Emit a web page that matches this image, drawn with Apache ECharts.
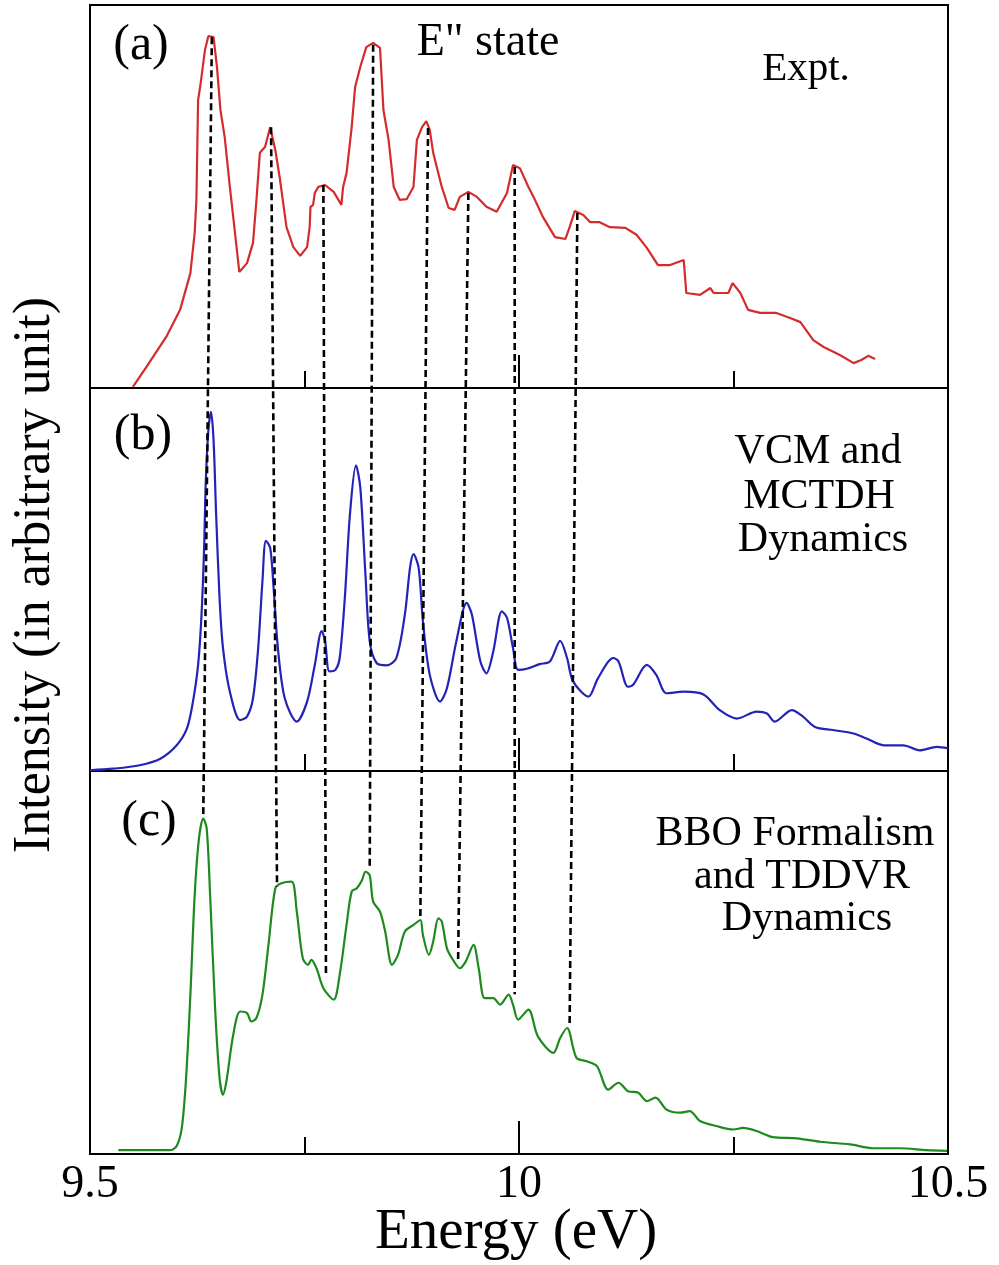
<!DOCTYPE html>
<html>
<head>
<meta charset="utf-8">
<script src="https://cdn.jsdelivr.net/npm/echarts@6/dist/echarts.min.js"></script>
<style>
html,body{margin:0;padding:0;background:#fff;}
#chart{width:999px;height:1265px;}
</style>
</head>
<body>
<div id="chart"></div>
<script>
// ---- Data (energies in eV, intensities in arbitrary units 0-100 per panel) ----
const energyA = [9.550,9.566,9.589,9.605,9.617,9.622,9.624,9.625,9.626,9.629,9.634,9.638,9.644,9.648,9.652,9.657,9.663,9.669,9.674,9.683,9.690,9.694,9.698,9.704,9.710,9.716,9.721,9.729,9.737,9.745,9.753,9.756,9.757,9.760,9.762,9.766,9.774,9.784,9.793,9.795,9.799,9.805,9.809,9.815,9.822,9.830,9.838,9.842,9.848,9.854,9.861,9.869,9.877,9.881,9.887,9.892,9.896,9.900,9.910,9.918,9.925,9.931,9.941,9.951,9.962,9.974,9.986,9.993,10.001,10.011,10.017,10.028,10.042,10.054,10.059,10.065,10.075,10.083,10.094,10.106,10.124,10.137,10.149,10.162,10.176,10.192,10.195,10.211,10.223,10.227,10.244,10.249,10.258,10.267,10.281,10.300,10.316,10.328,10.343,10.355,10.374,10.390,10.399,10.407,10.415];
const intensityA = [0.3,5.6,13.4,20.4,30.0,40.5,49.1,62.1,75.2,79.6,88.3,91.9,91.6,83.8,72.6,65.5,52.5,40.5,30.3,32.6,37.9,49.1,61.4,62.9,68.1,62.1,55.1,42.0,36.8,34.5,36.8,42.0,47.3,47.8,50.9,52.5,53.0,51.2,47.8,52.5,56.1,68.1,78.6,83.8,89.0,90.1,88.8,72.6,64.8,52.5,49.1,49.3,52.5,64.8,68.1,69.7,67.4,61.4,52.5,47.0,46.5,49.9,51.2,49.9,47.3,46.0,50.9,58.2,57.4,52.5,49.9,44.6,39.4,38.9,42.0,46.2,45.2,43.3,43.3,42.0,41.8,40.0,36.6,32.1,32.1,33.4,24.8,24.3,26.1,24.8,24.8,27.4,24.8,20.4,19.6,19.6,18.3,17.2,12.5,10.7,8.6,6.5,7.3,8.4,7.6];

const energyB = [9.500,9.527,9.558,9.582,9.601,9.613,9.620,9.626,9.630,9.633,9.635,9.638,9.641,9.644,9.647,9.651,9.655,9.663,9.675,9.683,9.690,9.696,9.701,9.705,9.710,9.714,9.719,9.727,9.741,9.753,9.762,9.770,9.774,9.779,9.786,9.791,9.797,9.803,9.810,9.815,9.821,9.826,9.834,9.846,9.857,9.867,9.873,9.877,9.883,9.888,9.896,9.908,9.916,9.927,9.939,9.945,9.955,9.962,9.970,9.980,9.986,9.993,9.999,10.009,10.024,10.036,10.048,10.056,10.063,10.081,10.092,10.110,10.116,10.127,10.133,10.149,10.160,10.172,10.192,10.215,10.234,10.254,10.277,10.289,10.298,10.318,10.331,10.345,10.366,10.390,10.405,10.425,10.448,10.467,10.487,10.500];
const intensityB = [0.2,0.6,1.5,3.2,6.7,11.1,18.1,27.7,40.9,58.3,75.9,89.0,93.8,86.4,67.1,45.2,32.1,20.7,13.3,14.2,19.0,32.1,49.6,60.1,58.3,47.8,32.1,19.0,12.9,18.1,27.7,36.5,33.9,26.0,26.4,29.5,45.2,67.1,79.8,74.1,51.4,33.9,28.2,27.6,29.5,40.9,53.1,56.6,53.1,39.1,25.1,18.1,21.6,33.9,43.9,40.9,28.6,25.5,31.2,41.7,40.0,32.1,26.4,26.7,27.9,28.6,34.0,29.5,23.4,19.4,24.2,29.5,28.6,22.0,22.5,27.7,25.1,20.3,20.7,20.0,15.9,13.7,15.5,15.0,12.9,15.9,14.2,11.5,10.7,9.8,8.5,6.7,6.7,5.4,6.3,5.9];

const energyC = [9.533,9.593,9.601,9.607,9.612,9.617,9.622,9.627,9.632,9.636,9.640,9.646,9.651,9.655,9.659,9.667,9.675,9.683,9.688,9.694,9.701,9.708,9.716,9.723,9.735,9.741,9.748,9.754,9.758,9.764,9.772,9.784,9.791,9.799,9.805,9.811,9.817,9.821,9.826,9.830,9.838,9.844,9.852,9.859,9.867,9.877,9.885,9.888,9.895,9.900,9.906,9.910,9.916,9.922,9.931,9.938,9.947,9.953,9.960,9.970,9.978,9.988,9.993,9.999,10.011,10.022,10.040,10.048,10.056,10.067,10.079,10.091,10.104,10.116,10.127,10.139,10.149,10.159,10.172,10.188,10.199,10.211,10.230,10.250,10.261,10.277,10.296,10.324,10.351,10.386,10.413,10.444,10.475,10.499];
const intensityC = [1.0,1.0,2.1,6.8,19.9,41.6,67.6,82.4,87.6,85.0,67.6,37.2,19.9,15.5,19.0,31.2,37.2,36.8,34.6,35.5,41.6,54.6,69.4,70.7,71.1,63.3,51.1,49.4,50.7,48.5,43.3,40.3,46.8,59.8,68.5,69.4,71.5,73.7,72.8,65.9,63.3,58.1,49.4,52.0,58.1,59.8,61.1,57.2,52.0,55.5,61.5,60.7,53.7,51.1,48.5,50.3,54.6,48.5,40.7,40.7,39.0,41.6,39.0,35.1,37.7,30.7,26.4,30.3,32.9,25.1,24.2,22.9,16.8,18.6,16.4,16.0,13.8,14.7,11.6,10.8,11.2,8.6,7.3,6.4,6.8,6.0,4.4,4.1,3.2,2.5,1.5,1.5,1.0,0.8];

// Dashed correlation lines: from a peak in panel (a) down to a feature in panel (c)
const dashTopE = [9.642, 9.711, 9.772, 9.830, 9.894, 9.941, 9.995, 10.068];
const dashTopI = [91.6, 68.1, 53.0, 89.6, 67.9, 50.9, 57.7, 45.7];
const dashBotE = [9.632, 9.718, 9.775, 9.826, 9.885, 9.929, 9.995, 10.059];
const dashBotI = [88.0, 69.8, 46.9, 74.2, 61.5, 50.3, 41.7, 33.9];

const xTickValues = [9.5, 10, 10.5];

// ---- Build ----
const zip = (xs, ys) => xs.map((x, i) => [x, ys[i]]);
const SERIF = '"Liberation Serif", "DejaVu Serif", serif';

const L = 90, R = 51, PH = 383, TOP = 5;
const grids = [0,1,2].map(i => ({
  left: L, right: R, top: TOP + i*PH, height: PH,
  show: true, borderColor: '#000', borderWidth: 2, backgroundColor: 'transparent'
}));
grids.push({ left: L, right: R, top: TOP, height: PH*3, show: false });

function xAx(i) {
  return {
    gridIndex: i, type: 'value', min: 9.5, max: 10.5, interval: 0.5,
    axisLine: { show: false },
    axisTick: { show: true, inside: true, length: 33, lineStyle: { color: '#000', width: 2 } },
    minorTick: { show: true, splitNumber: 2, length: 17, lineStyle: { color: '#000', width: 2 } },
    splitLine: { show: false }, minorSplitLine: { show: false },
    axisLabel: {
      show: i === 2, margin: 8, color: '#000', fontFamily: SERIF, fontSize: 46,
      formatter: v => (xTickValues.indexOf(v) >= 0 ? String(v) : '')
    }
  };
}
function yAx(i, max) {
  return { gridIndex: i, type: 'value', min: 0, max: max, show: false,
    splitLine: { show: false } };
}

const xAxes = [xAx(0), xAx(1), xAx(2),
  { gridIndex: 3, type: 'value', min: 9.5, max: 10.5, show: false, splitLine: { show: false } }];
const yAxes = [yAx(0, 100), yAx(1, 100), yAx(2, 100), yAx(3, 300)];

const series = [
  { type: 'line', xAxisIndex: 0, yAxisIndex: 0, data: zip(energyA, intensityA),
    showSymbol: false, lineStyle: { color: '#d42c2c', width: 2.2 }, z: 2 },
  { type: 'line', xAxisIndex: 1, yAxisIndex: 1, data: zip(energyB, intensityB),
    showSymbol: false, smooth: 0.3, lineStyle: { color: '#2323b8', width: 2.2 }, z: 2 },
  { type: 'line', xAxisIndex: 2, yAxisIndex: 2, data: zip(energyC, intensityC),
    showSymbol: false, smooth: 0.3, lineStyle: { color: '#1e8a1e', width: 2.2 }, z: 2 }
];
dashTopE.forEach((e, k) => {
  series.push({
    type: 'line', xAxisIndex: 3, yAxisIndex: 3,
    data: [[e, 200 + dashTopI[k]], [dashBotE[k], dashBotI[k]]],
    showSymbol: false, silent: true, z: 5,
    lineStyle: { color: '#000', width: 2.6, type: [7, 4] }
  });
});

function txt(text, x, y, size, align, rot) {
  return {
    type: 'text', x: x, y: y, rotation: rot || 0, z: 10,
    style: { text: text, fill: '#000', font: size + 'px ' + SERIF,
      textAlign: align || 'center', textVerticalAlign: 'middle',
      align: align || 'center', verticalAlign: 'middle' }
  };
}
const graphics = [
  txt('(a)', 141, 46, 50),
  txt('(b)', 143, 436, 50),
  txt('(c)', 149, 822, 50),
  txt('E" state', 488, 43, 46),
  txt('Expt.', 806, 69, 41),
  txt('VCM and', 818, 452, 42),
  txt('MCTDH', 819, 497, 42),
  txt('Dynamics', 823, 540, 42),
  txt('BBO Formalism', 795, 834, 42),
  txt('and TDDVR', 802, 877, 42),
  txt('Dynamics', 807, 919, 42),
  txt('Energy (eV)', 516, 1233, 57),
  txt('Intensity (in arbitrary unit)', 35, 575, 52, 'center', Math.PI / 2)
];

const chart = echarts.init(document.getElementById('chart'), null, { renderer: 'canvas' });
chart.setOption({
  animation: false,
  backgroundColor: '#fff',
  grid: grids,
  xAxis: xAxes,
  yAxis: yAxes,
  series: series,
  graphic: graphics
});
</script>
</body>
</html>
